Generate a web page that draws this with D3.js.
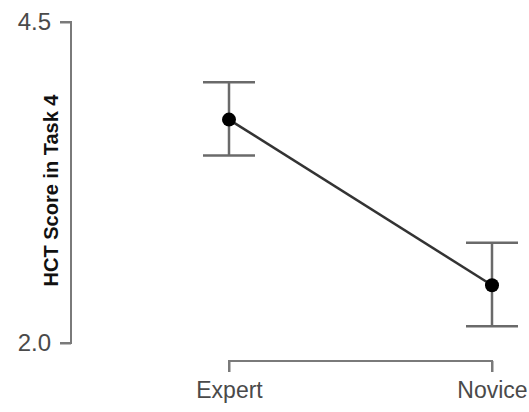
<!DOCTYPE html>
<html>
<head>
<meta charset="utf-8">
<script src="https://cdn.jsdelivr.net/npm/d3@7"></script>
<style>
  html, body { margin: 0; padding: 0; background: #fff; }
  svg { display: block; font-family: "Liberation Sans", Arial, sans-serif; }
</style>
</head>
<body>
<svg id="chart" width="529" height="412"></svg>
<script>
// Group means with their confidence interval bounds
const groups = ["Expert", "Novice"];
const means = [3.74, 2.45];
const lower = [3.46, 2.13];
const upper = [4.03, 2.78];
const yTicks = [2.0, 4.5];
const yTitle = "HCT Score in Task 4";

const svg = d3.select("#chart");

const x = d3.scalePoint().domain(groups).range([229, 492]);
const y = d3.scaleLinear().domain([2.0, 4.5]).range([343, 22]);

const axisColor = "#7a7a7a";
const labelColor = "#4a4a4a";

// Y axis: bracket-style line spanning the tick range
const yAxis = svg.append("g").attr("transform", "translate(71,0)")
  .call(d3.axisLeft(y).tickValues(yTicks).tickFormat(d3.format(".1f")).tickSize(11).tickPadding(9));
yAxis.select(".domain").attr("stroke", axisColor).attr("stroke-width", 2)
  .attr("d", `M-11,${y(4.5)}H0V${y(2.0)}H-11`);
yAxis.selectAll(".tick line").attr("stroke", axisColor).attr("stroke-width", 2);
yAxis.selectAll(".tick text").attr("fill", labelColor).attr("font-size", 24);

// X axis: horizontal bracket below the plot
const xAxis = svg.append("g").attr("transform", "translate(0,361)")
  .call(d3.axisBottom(x).tickSize(11).tickPadding(10));
xAxis.select(".domain").attr("stroke", axisColor).attr("stroke-width", 2)
  .attr("d", `M${x("Expert")},11V0H${x("Novice")}V11`);
xAxis.selectAll(".tick line").attr("stroke", axisColor).attr("stroke-width", 2);
xAxis.selectAll(".tick text").attr("fill", labelColor).attr("font-size", 23);

// Y axis title
svg.append("text")
  .attr("transform", `translate(58,${(y(2.0) + y(4.5)) / 2 + 8}) rotate(-90)`)
  .attr("text-anchor", "middle")
  .attr("font-weight", "bold")
  .attr("font-size", 20)
  .attr("fill", "#111")
  .text(yTitle);

const data = groups.map((g, i) => ({ g, m: means[i], lo: lower[i], hi: upper[i] }));

// Error bars
const eb = svg.append("g").attr("stroke", "#6a6a6a").attr("stroke-width", 2.5);
data.forEach(d => {
  eb.append("line").attr("x1", x(d.g)).attr("x2", x(d.g)).attr("y1", y(d.hi)).attr("y2", y(d.lo));
  eb.append("line").attr("x1", x(d.g) - 26).attr("x2", x(d.g) + 26).attr("y1", y(d.hi)).attr("y2", y(d.hi));
  eb.append("line").attr("x1", x(d.g) - 26).attr("x2", x(d.g) + 26).attr("y1", y(d.lo)).attr("y2", y(d.lo));
});

// Line joining the group means
svg.append("path")
  .datum(data)
  .attr("fill", "none")
  .attr("stroke", "#333")
  .attr("stroke-width", 2.5)
  .attr("d", d3.line().x(d => x(d.g)).y(d => y(d.m)));

// Mean markers
svg.selectAll("circle.mean").data(data).join("circle")
  .attr("class", "mean")
  .attr("cx", d => x(d.g))
  .attr("cy", d => y(d.m))
  .attr("r", 7)
  .attr("fill", "#000");
</script>
</body>
</html>
